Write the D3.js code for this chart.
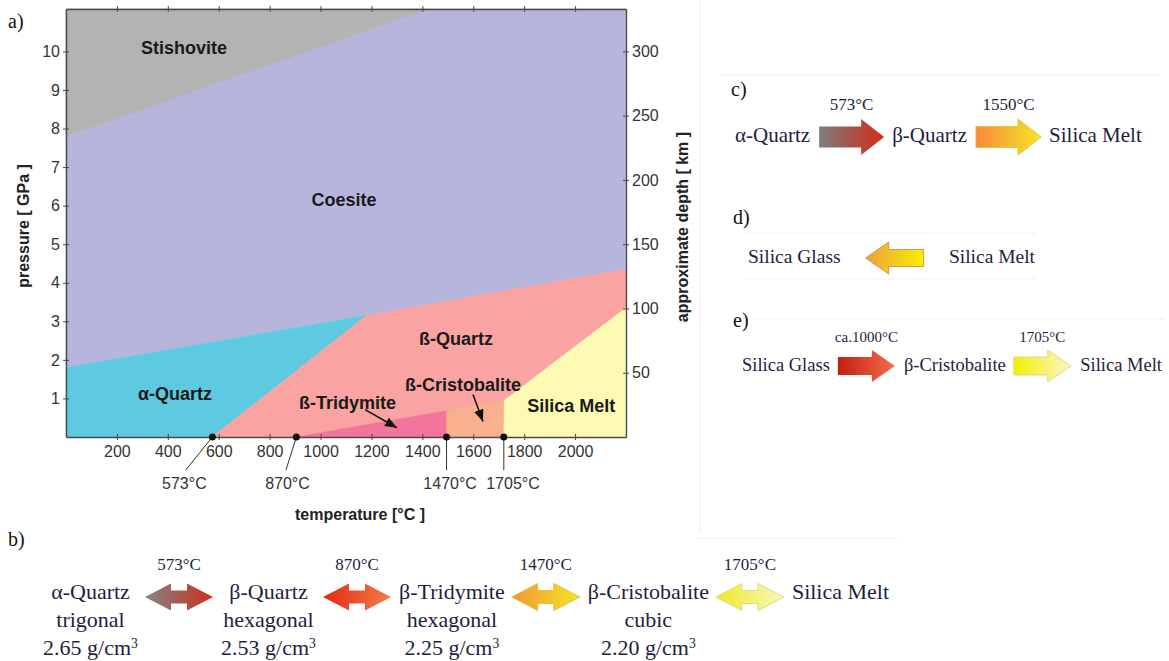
<!DOCTYPE html>
<html><head><meta charset="utf-8">
<script src="https://cdn.jsdelivr.net/npm/d3@7"></script>
<style>body{margin:0;background:#fff}svg{display:block}</style>
</head><body><svg id="chart" width="1169" height="661"></svg>
<script>
// ================= DATA =================
// panel a) phase diagram: temperature (°C) vs pressure (GPa)
const tempTicks = [200, 400, 600, 800, 1000, 1200, 1400, 1600, 1800, 2000];
const pressureTicks = [1, 2, 3, 4, 5, 6, 7, 8, 9, 10];
const depthTicks = [50, 100, 150, 200, 250, 300];

const phaseNames  = ["Coesite", "Stishovite", "α-Quartz", "ß-Quartz", "ß-Tridymite", "ß-Cristobalite", "Silica Melt"];
const phaseColors = ["#b6b6dc", "#b3b3b3", "#5ecae2", "#f9a3a3", "#f2769b", "#f8b08e", "#fdfab4"];
// phase field outlines [T, P]
const coesiteField      = [[0, 1.8], [1180, 3.15], [2200, 4.35], [2200, 11.1], [0, 11.1]];
const stishoviteField   = [[0, 7.8], [1420, 11.1], [0, 11.1]];
const alphaQuartzField  = [[0, 0], [575, 0], [1180, 3.15], [0, 1.8]];
const betaQuartzField   = [[575, 0], [2200, 0], [2200, 4.35], [1180, 3.15]];
const tridymiteField    = [[905, 0], [1495, 0], [1495, 0.68]];
const cristobaliteField = [[1495, 0], [1720, 0], [1722, 0.95], [1495, 0.68]];
const meltField         = [[1720, 0], [2200, 0], [2200, 3.35], [1722, 0.95]];
const phaseFields = [coesiteField, stishoviteField, alphaQuartzField, betaQuartzField, tridymiteField, cristobaliteField, meltField];
// label anchors [T, P]
const phaseLabelT = [1092, 464, 428, 1532, 1106, 1560, 1985];
const phaseLabelP = [6.15, 10.1, 1.12, 2.55, 0.89, 1.36, 0.81];

// transition temperatures at 0 GPa
const transitionT      = [575, 905, 1495, 1720];
const transitionText   = ["573°C", "870°C", "1470°C", "1705°C"];
const leaderEndT       = [470, 864, 1495, 1720];
const transitionLabelT = [465, 870, 1509, 1756];

// pointer arrows [T, P] start -> end
const tridymitePointer    = [[1175, 0.71], [1300, 0.24]];
const cristobalitePointer = [[1599, 1.10], [1638, 0.40]];

// panel b) sequence
const bPhases   = ["α-Quartz", "β-Quartz", "β-Tridymite", "β-Cristobalite", "Silica Melt"];
const bSystems  = ["trigonal", "hexagonal", "hexagonal", "cubic", ""];
const bDensity  = [2.65, 2.53, 2.25, 2.20, null];
const bTemps    = ["573°C", "870°C", "1470°C", "1705°C"];
const bGrad     = [["#858585", "#c9301c"], ["#e02a10", "#f47c4c"], ["#f29634", "#f6e424"], ["#efe826", "#f8f8bc"]];
const bStroke   = ["none", "none", "#e0c04a", "#dcdc80"];

// panel c)
const cPhases = ["α-Quartz", "β-Quartz", "Silica Melt"];
const cTemps  = ["573°C", "1550°C"];
const cGrad   = [["#7d7d7d", "#d42a18"], ["#f9883a", "#f6e626"]];
const cStroke = ["none", "#dcc83c"];

// panel d)
const dPhases = ["Silica Glass", "Silica Melt"];
const dGrad   = [["#efa040", "#f6f000"]];
const dStroke = ["#d09a48"];

// panel e)
const ePhases = ["Silica Glass", "β-Cristobalite", "Silica Melt"];
const eTemps  = ["ca.1000°C", "1705°C"];
const eGrad   = [["#c41e10", "#f46c4a"], ["#f4ee00", "#f8f8cc"]];
const eStroke = ["none", "#d8d890"];

// ================= DRAW =================
const svg = d3.select("#chart");
const defs = svg.append("defs");
const sans = "Arial, 'Liberation Sans', sans-serif";
const serif = "'Times New Roman', 'Liberation Serif', serif";
const ink = "#1e1e3e";

const x = d3.scaleLinear().domain([0, 2200]).range([66, 626]);
const y = d3.scaleLinear().domain([0, 11.1]).range([437, 9]);
const yD = d3.scaleLinear().domain([0, 333]).range([437, 9]);
const line = d3.line().x(d => x(d[0])).y(d => y(d[1]));

// faint panel frames
const frame = svg.append("g").attr("stroke", "#efefef").attr("stroke-width", 1);
frame.append("line").attr("x1", 700).attr("x2", 700).attr("y1", 0).attr("y2", 532);
frame.append("line").attr("x1", 720).attr("x2", 1160).attr("y1", 75).attr("y2", 75);
frame.append("line").attr("x1", 745).attr("x2", 1035).attr("y1", 233).attr("y2", 233);
frame.append("line").attr("x1", 745).attr("x2", 1035).attr("y1", 279).attr("y2", 279);
frame.append("line").attr("x1", 735).attr("x2", 1165).attr("y1", 319).attr("y2", 319);
frame.append("line").attr("x1", 697).attr("x2", 897).attr("y1", 538).attr("y2", 538);

// phase fields
const gF = svg.append("g");
gF.selectAll("path").data(phaseFields).join("path")
  .attr("d", d => line(d) + "Z")
  .attr("fill", (d, i) => phaseColors[i])
  .attr("stroke", (d, i) => phaseColors[i])
  .attr("stroke-width", 0.6);

// axes
function styleAxis(g) {
  g.select(".domain").attr("stroke", "#4a4a4a").attr("stroke-width", 1.4);
  g.selectAll(".tick line").attr("stroke", "#4a4a4a").attr("stroke-width", 1);
  g.selectAll("text").attr("font-family", sans).attr("font-size", 16).attr("fill", "#333");
}
const fmt = d3.format("d");
const axB = svg.append("g").attr("transform", `translate(0,${y(0)})`)
  .call(d3.axisBottom(x).tickValues(tempTicks).tickFormat(fmt).tickSizeOuter(0));
axB.selectAll(".tick line").attr("y1", -3).attr("y2", 3);
axB.selectAll(".tick text").attr("y", 9);
styleAxis(axB);

const axT = svg.append("g").attr("transform", `translate(0,${y(11.1)})`)
  .call(d3.axisTop(x).tickValues(tempTicks).tickFormat("").tickSizeOuter(0));
axT.selectAll(".tick line").attr("y1", -3).attr("y2", 3);
styleAxis(axT);

const axL = svg.append("g").attr("transform", `translate(${x(0)},0)`)
  .call(d3.axisLeft(y).tickValues(pressureTicks).tickFormat(fmt).tickSizeOuter(0));
axL.selectAll(".tick line").attr("x1", 3).attr("x2", -3);
axL.selectAll(".tick text").attr("x", -6);
styleAxis(axL);

const axR = svg.append("g").attr("transform", `translate(${x(2200)},0)`)
  .call(d3.axisRight(yD).tickValues(depthTicks).tickFormat(fmt).tickSizeOuter(0));
axR.selectAll(".tick line").attr("x1", -3).attr("x2", 3);
axR.selectAll(".tick text").attr("x", 6);
styleAxis(axR);

// axis titles
svg.append("text").attr("x", 360).attr("y", 520).attr("text-anchor", "middle")
  .attr("font-family", sans).attr("font-weight", "bold").attr("font-size", 16).attr("fill", "#222")
  .text("temperature [°C ]");
svg.append("text").attr("transform", "translate(29,226) rotate(-90)").attr("text-anchor", "middle")
  .attr("font-family", sans).attr("font-weight", "bold").attr("font-size", 16).attr("fill", "#222")
  .text("pressure [ GPa ]");
svg.append("text").attr("transform", "translate(688,227) rotate(-90)").attr("text-anchor", "middle")
  .attr("font-family", sans).attr("font-weight", "bold").attr("font-size", 16).attr("fill", "#222")
  .text("approximate depth [ km ]");

// phase labels
svg.append("g").selectAll("text").data(phaseNames).join("text")
  .attr("x", (d, i) => x(phaseLabelT[i]))
  .attr("y", (d, i) => y(phaseLabelP[i]))
  .attr("dy", "0.35em")
  .attr("text-anchor", "middle")
  .attr("font-family", sans).attr("font-weight", "bold").attr("font-size", 18).attr("fill", "#1a1a1a")
  .text(d => d);

// pointer arrows
defs.append("marker").attr("id", "ah").attr("viewBox", "0 0 10 8")
  .attr("refX", 10).attr("refY", 4).attr("markerWidth", 12).attr("markerHeight", 10)
  .attr("markerUnits", "userSpaceOnUse").attr("orient", "auto")
  .append("path").attr("d", "M0,0 L10,4 L0,8 Z").attr("fill", "#111");
[tridymitePointer, cristobalitePointer].forEach(p => {
  svg.append("path").attr("d", line(p)).attr("stroke", "#111").attr("stroke-width", 1.5)
    .attr("fill", "none").attr("marker-end", "url(#ah)");
});

// transition markers
const gTr = svg.append("g");
transitionT.forEach((t, i) => {
  gTr.append("line").attr("x1", x(t)).attr("y1", y(0)).attr("x2", x(leaderEndT[i])).attr("y2", y(-0.86))
    .attr("stroke", "#333").attr("stroke-width", 1);
  gTr.append("circle").attr("cx", x(t)).attr("cy", y(0)).attr("r", 3.5).attr("fill", "#111");
  gTr.append("text").attr("x", x(transitionLabelT[i])).attr("y", y(-1.34)).attr("text-anchor", "middle")
    .attr("font-family", sans).attr("font-size", 16).attr("fill", "#333").text(transitionText[i]);
});

// panel letters
[["a)", 8, 28], ["b)", 8, 546], ["c)", 731, 96], ["d)", 733, 224], ["e)", 733, 327]].forEach(([t, px, py]) => {
  svg.append("text").attr("x", px).attr("y", py).attr("font-family", serif).attr("font-size", 20)
    .attr("fill", "#111").text(t);
});

// ---------- arrow helpers ----------
let gradId = 0;
function grad(c) {
  const id = "g" + (gradId++);
  const lg = defs.append("linearGradient").attr("id", id).attr("x1", 0).attr("x2", 1).attr("y1", 0).attr("y2", 0);
  lg.append("stop").attr("offset", "0%").attr("stop-color", c[0]);
  lg.append("stop").attr("offset", "100%").attr("stop-color", c[1]);
  return `url(#${id})`;
}
function arrowPath(x0, x1, cy, hl, hh, bh, kind) {
  if (kind === "right")
    return `M${x0},${cy - bh}L${x1 - hl},${cy - bh}L${x1 - hl},${cy - hh}L${x1},${cy}L${x1 - hl},${cy + hh}L${x1 - hl},${cy + bh}L${x0},${cy + bh}Z`;
  if (kind === "left")
    return `M${x1},${cy - bh}L${x0 + hl},${cy - bh}L${x0 + hl},${cy - hh}L${x0},${cy}L${x0 + hl},${cy + hh}L${x0 + hl},${cy + bh}L${x1},${cy + bh}Z`;
  return `M${x0},${cy}L${x0 + hl},${cy - hh}L${x0 + hl},${cy - bh}L${x1 - hl},${cy - bh}L${x1 - hl},${cy - hh}L${x1},${cy}` +
         `L${x1 - hl},${cy + hh}L${x1 - hl},${cy + bh}L${x0 + hl},${cy + bh}L${x0 + hl},${cy + hh}Z`;
}

// generic row layout: texts (multi-line) alternate with arrows
function drawRow(cfg) {
  const g = svg.append("g");
  let cx = cfg.x0;
  cfg.texts.forEach((lines, i) => {
    const grp = g.append("g");
    lines.forEach((ln, j) => {
      if (ln === null || ln === "") return;
      const t = grp.append("text").attr("text-anchor", "middle")
        .attr("y", cfg.baseline + j * cfg.lineGap)
        .attr("font-family", serif).attr("font-size", cfg.size).attr("fill", ink);
      if (typeof ln === "object") {
        t.append("tspan").text(ln.base);
        t.append("tspan").attr("dy", "-0.5em").attr("font-size", cfg.size * 0.62).text(ln.sup);
      } else t.text(ln);
    });
    const w = grp.node().getBBox().width;
    grp.attr("transform", `translate(${cx + w / 2},0)`);
    cx += w;
    if (i < cfg.arrows.length) {
      const a = cfg.arrows[i];
      cx += cfg.gapBefore;
      g.append("path").attr("d", arrowPath(cx, cx + a.w, cfg.cy, cfg.hl, cfg.hh, cfg.bh, cfg.kind))
        .attr("fill", grad(a.grad)).attr("stroke", a.stroke).attr("stroke-width", 1);
      if (a.label) g.append("text").attr("x", cx + a.w / 2).attr("y", cfg.tempBaseline)
        .attr("text-anchor", "middle").attr("font-family", serif).attr("font-size", cfg.tempSize)
        .attr("fill", ink).text(a.label);
      cx += a.w + cfg.gapAfter;
    }
  });
}

// panel b
drawRow({
  x0: 43, baseline: 599, lineGap: 28, size: 22, cy: 597, hl: 26, hh: 13.5, bh: 6.5, kind: "double",
  gapBefore: 7, gapAfter: 8, tempBaseline: 570, tempSize: 17,
  texts: bPhases.map((p, i) => [p, bSystems[i], bDensity[i] == null ? null : { base: bDensity[i].toFixed(2) + " g/cm", sup: "3" }]),
  arrows: bTemps.map((t, i) => ({ w: 68, grad: bGrad[i], stroke: bStroke[i], label: t }))
});

// panel c
drawRow({
  x0: 735, baseline: 142, lineGap: 0, size: 21, cy: 137, hl: 23, hh: 18, bh: 10.5, kind: "right",
  gapBefore: 9, gapAfter: 8, tempBaseline: 110, tempSize: 17,
  texts: cPhases.map(p => [p]),
  arrows: cTemps.map((t, i) => ({ w: 65, grad: cGrad[i], stroke: cStroke[i], label: t }))
});

// panel d
drawRow({
  x0: 748, baseline: 263, lineGap: 0, size: 19.5, cy: 258, hl: 23, hh: 16, bh: 8.5, kind: "left",
  gapBefore: 25, gapAfter: 25, tempBaseline: 0, tempSize: 15,
  texts: dPhases.map(p => [p]),
  arrows: dGrad.map((c, i) => ({ w: 58, grad: c, stroke: dStroke[i], label: null }))
});

// panel e
drawRow({
  x0: 742, baseline: 371, lineGap: 0, size: 18.5, cy: 366, hl: 23, hh: 16, bh: 9, kind: "right",
  gapBefore: 8, gapAfter: 9, tempBaseline: 342, tempSize: 15,
  texts: ePhases.map(p => [p]),
  arrows: eTemps.map((t, i) => ({ w: 57, grad: eGrad[i], stroke: eStroke[i], label: t }))
});
</script></body></html>
